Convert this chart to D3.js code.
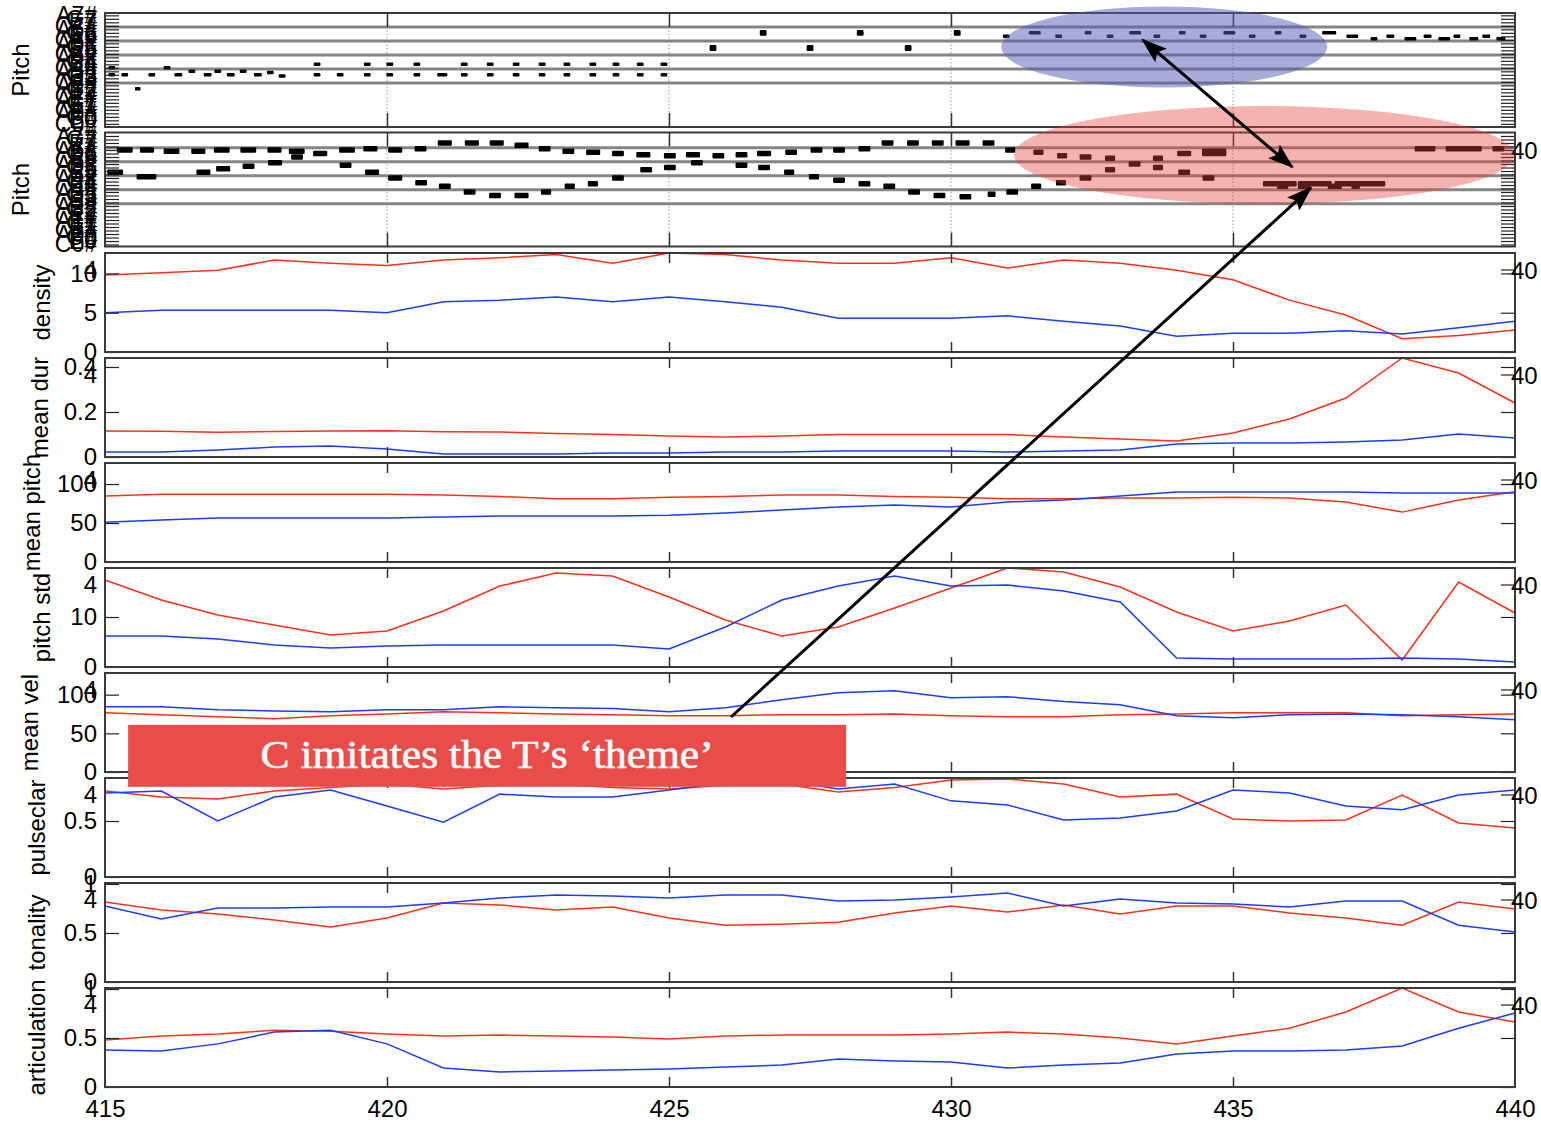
<!DOCTYPE html>
<html><head><meta charset="utf-8">
<script src="https://cdn.jsdelivr.net/npm/d3@7"></script>
<style>body{margin:0;background:#fff}svg{display:block}</style>
</head><body><svg id="c" width="1541" height="1125"></svg>
<script>
// ---------- DATA ----------
const bars = [415,416,417,418,419,420,421,422,423,424,425,426,427,428,429,430,431,432,433,434,435,436,437,438,439,440];
const xTickValues = [420,425,430,435];
const xTickLabels = [415,420,425,430,435,440];

const densityC = [9.8,10.1,10.4,11.7,11.3,11.0,11.7,12.0,12.4,11.3,12.6,12.4,11.7,11.3,11.3,12.0,10.7,11.7,11.3,10.4,9.2,6.6,4.7,1.7,2.1,2.8];
const densityT = [5.0,5.3,5.3,5.3,5.3,5.0,6.4,6.6,7.0,6.4,7.0,6.4,5.7,4.3,4.3,4.3,4.6,3.9,3.3,2.0,2.4,2.4,2.7,2.3,3.1,3.9];
const meanDurC = [0.116,0.115,0.11,0.113,0.116,0.117,0.112,0.111,0.104,0.1,0.093,0.089,0.093,0.1,0.1,0.1,0.1,0.089,0.08,0.071,0.107,0.169,0.262,0.44,0.373,0.24];
const meanDurT = [0.022,0.022,0.031,0.044,0.049,0.036,0.013,0.013,0.013,0.018,0.018,0.022,0.022,0.027,0.027,0.027,0.022,0.027,0.031,0.058,0.062,0.062,0.067,0.076,0.102,0.084];
const meanPitchC = [84.6,87,87,87,87,87,86,84,81,81,83,84,86,86,84,83,81,81,82,82,83,82,77,64,79.5,90];
const meanPitchT = [51,54,56.4,56.4,56.4,56.4,57.7,59,59,59,60,62.8,66.7,70.5,73,70.5,77,79.5,84.6,89.7,89.7,89.7,89.7,88.5,88.5,88.5];
const pitchStdC = [17.4,13.4,10.4,8.4,6.4,7.2,11.2,16.2,18.8,18.2,14,9.4,6.2,8,11.8,15.8,19.8,19,16,11,7.2,9.2,12.4,1.4,17,10.8];
const pitchStdT = [6.2,6.2,5.6,4.4,3.8,4.2,4.4,4.4,4.4,4.4,3.6,8,13.4,16.2,18.2,16.2,16.4,15.2,13,1.8,1.6,1.6,1.6,1.8,1.6,1];
const meanVelC = [76.6,74,71.4,69,72.7,75,78,76.6,75,74,72.7,72.7,74,74,75,72.7,71.4,71.4,74,75,76.6,76.6,76.6,72.7,74,75];
const meanVelT = [84.4,84.4,80.5,79,78,80.5,80.5,84.4,83,82,78,83,93.5,102.6,105,96,97.4,91,87,72.7,70,74,75,74,71.4,67.5];
const pulseclarC = [0.768,0.714,0.696,0.768,0.80,0.83,0.786,0.82,0.83,0.80,0.786,0.82,0.83,0.76,0.80,0.866,0.875,0.83,0.714,0.74,0.518,0.5,0.509,0.732,0.482,0.4375];
const pulseclarT = [0.75,0.768,0.5,0.714,0.777,0.634,0.49,0.74,0.714,0.714,0.777,0.84,0.866,0.786,0.83,0.68,0.643,0.509,0.527,0.59,0.777,0.75,0.634,0.6,0.732,0.777];
const tonalityC = [0.816,0.735,0.694,0.633,0.56,0.653,0.806,0.786,0.735,0.765,0.653,0.58,0.59,0.61,0.704,0.776,0.714,0.786,0.694,0.776,0.776,0.704,0.653,0.58,0.816,0.745];
const tonalityT = [0.776,0.643,0.755,0.755,0.765,0.765,0.806,0.857,0.888,0.878,0.857,0.888,0.888,0.827,0.837,0.867,0.908,0.776,0.847,0.806,0.796,0.765,0.827,0.827,0.58,0.51];
const articulationC = [0.48,0.52,0.54,0.58,0.57,0.54,0.52,0.53,0.52,0.51,0.49,0.52,0.53,0.53,0.53,0.54,0.56,0.54,0.5,0.44,0.52,0.60,0.765,1.01,0.765,0.663];
const articulationT = [0.378,0.367,0.44,0.56,0.58,0.44,0.194,0.153,0.163,0.173,0.184,0.204,0.224,0.286,0.265,0.255,0.194,0.224,0.245,0.337,0.367,0.367,0.378,0.418,0.60,0.755];

const densityTicks = [0,5,10];
const meanDurTicks = [0,0.2,0.4];
const meanPitchTicks = [0,50,100];
const pitchStdTicks = [0,10];
const meanVelTicks = [0,50,100];
const pulseclarTicks = [0,0.5];
const tonalityTicks = [0,0.5,1];
const articulationTicks = [0,0.5,1];

// piano-roll pitch axis
const pitchTickValues = [13,16,19,22,25,28,31,34,37,40,43,46,49,52,55,58,61,64,67,70,73,76,79,82,85,88,91,94,97,100,103,106];
const pitchTickLabels = ["C0#","E0","G0","A0#","C1#","E1","G1","A1#","C2#","E2","G2","A2#","C3#","E3","G3","A3#","C4#","E4","G4","A4#","C5#","E5","G5","A5#","C6#","E6","G6","A6#","C7#","E7","G7","A7#"];
const staffPitches = [48,60,72,84,96];

// notes: [onset (bar), duration (bars), MIDI pitch]
const notesT = [
 [415.06,0.12,61],[415.06,0.12,55],[415.29,0.12,55],[415.53,0.1,43],[415.77,0.12,55],[416.04,0.12,61],
 [416.23,0.14,55],[416.48,0.12,58],[416.75,0.14,55],[416.94,0.12,58],[417.16,0.14,55],[417.39,0.12,58],
 [417.64,0.14,55],[417.87,0.12,57],[418.08,0.12,54],
 [418.70,0.12,55],[419.11,0.12,55],[419.59,0.12,55],[419.99,0.12,55],[420.47,0.12,55],[420.89,0.18,55],
 [421.31,0.12,55],[421.77,0.12,55],[422.23,0.12,55],[422.69,0.12,55],[423.13,0.12,55],[423.59,0.12,55],
 [424.00,0.12,55],[424.43,0.12,55],[424.85,0.12,55],
 [418.70,0.12,64],[419.59,0.12,64],[419.99,0.12,64],[420.47,0.12,64],[421.31,0.12,64],[421.77,0.12,64],
 [422.23,0.12,64],[422.69,0.12,64],[423.13,0.12,64],[423.59,0.12,64],[424.00,0.12,64],[424.43,0.12,64],[424.85,0.12,64],
 [425.72,0.12,79],[425.72,0.12,77],[426.61,0.12,92],[426.61,0.12,90],[427.44,0.12,79],[427.44,0.12,77],
 [428.33,0.12,92],[428.33,0.12,90],[429.18,0.12,79],[429.18,0.12,77],[430.05,0.12,92],[430.05,0.12,90],
 [430.92,0.12,88],[431.38,0.21,91],[431.85,0.12,88],[432.37,0.12,91],[432.76,0.12,88],[433.16,0.21,91],
 [433.59,0.12,88],[434.04,0.12,91],[434.41,0.12,88],[434.83,0.21,91],[435.28,0.12,88],[435.74,0.12,91],
 [436.18,0.12,88],[436.58,0.25,91],[437.01,0.21,88],[437.44,0.12,86],[437.72,0.14,88],[438.04,0.21,86],
 [438.38,0.14,88],[438.64,0.21,86],[438.91,0.12,88],[439.19,0.16,86],[439.42,0.14,88],[439.67,0.16,86]
];
const notesC = [
 [415.21,0.28,94],[415.62,0.25,94],[416.04,0.28,93],[416.53,0.25,93],[416.93,0.28,94],[417.40,0.28,94],
 [417.88,0.25,94],[418.26,0.28,93],[418.30,0.21,88],[418.69,0.25,91],[419.15,0.28,94],[419.58,0.25,95],
 [420.02,0.25,94],[420.49,0.21,95],[420.90,0.25,100],[421.38,0.25,100],[421.82,0.25,100],[422.26,0.25,98],
 [422.69,0.21,95],[423.11,0.21,93],[423.53,0.25,92],[423.99,0.21,91],[424.42,0.25,90],[424.91,0.21,89],
 [425.30,0.25,90],[425.77,0.21,89],[426.18,0.21,90],[426.56,0.25,91],[427.06,0.21,92],[427.51,0.21,94],
 [427.91,0.21,94],[428.36,0.21,95],[428.77,0.21,100],[429.22,0.21,100],[429.66,0.21,100],[430.08,0.25,100],
 [430.56,0.21,100],[430.96,0.18,94],
 [415.04,0.28,75],[415.56,0.35,71],[416.62,0.25,75],[416.97,0.25,78],[417.44,0.21,80],[417.89,0.25,83],
 [419.16,0.21,81],[419.61,0.25,75],[420.02,0.25,70],[420.50,0.21,66],[420.92,0.21,63],[421.36,0.21,58],
 [421.81,0.21,55],[422.26,0.25,55],[422.73,0.18,58],[423.15,0.18,63],[423.56,0.18,65],[423.99,0.21,70],
 [424.49,0.21,77],[424.91,0.21,79],[425.39,0.21,83],[426.18,0.21,81],[426.58,0.21,79],[427.04,0.18,75],
 [427.48,0.18,71],[427.91,0.21,68],[428.36,0.21,65],[428.80,0.21,63],[429.24,0.21,58],[429.69,0.21,55],
 [430.15,0.21,54],[430.65,0.14,56],[430.98,0.21,58],[431.42,0.18,63],[431.86,0.18,66],
 [431.46,0.18,92],[431.88,0.18,89],[432.28,0.21,88],[432.73,0.18,87],[433.15,0.21,82],[433.58,0.18,87],
 [433.58,0.18,79],[432.73,0.18,77],[434.01,0.25,91],[434.45,0.43,93],[434.45,0.43,91],[434.03,0.21,75],
 [434.46,0.21,70],[432.28,0.21,70],
 [435.53,0.6,65],[436.15,0.6,65],[436.8,0.9,65],[435.78,0.2,63],[436.15,0.22,63],[436.68,0.25,63],[437.1,0.15,63],
 [438.22,0.37,95],[438.77,0.64,95],[439.60,0.21,95]
];

// ---------- DRAWING ----------
const FONT = '"Liberation Sans", Arial, Helvetica, sans-serif';
const RED = '#ff3018', BLUE = '#1c3cff';
const svg = d3.select('#c');
svg.append('rect').attr('width',1541).attr('height',1125).attr('fill','#fff');
const L = 105, R = 1515;
const x = d3.scaleLinear().domain([415,440]).range([L,R]);

const pitchPanels = [
  {top:13, bottom:127, domain:[108,10.3], notes:notesT, noteH:3.5, label:'Pitch', lx:29, show40:false},
  {top:132.5, bottom:246.5, domain:[109,11.3], notes:notesC, noteH:5.5, label:'Pitch', lx:29, show40:true}
];
pitchPanels.forEach(p => {
  p.y = d3.scaleLinear().domain(p.domain).range([p.top,p.bottom]);
  const g = svg.append('g');
  g.selectAll('.grid').data(xTickValues).join('line')
    .attr('x1',d=>x(d)).attr('x2',d=>x(d)).attr('y1',p.top).attr('y2',p.bottom)
    .attr('stroke','#9a9a9a').attr('stroke-width',1).attr('stroke-dasharray','1.5,2');
  g.selectAll('.staff').data(staffPitches).join('line')
    .attr('x1',L).attr('x2',R).attr('y1',d=>p.y(d)).attr('y2',d=>p.y(d))
    .attr('stroke','#858585').attr('stroke-width',3);
  g.selectAll('.note').data(p.notes).join('rect')
    .attr('x',d=>x(d[0])).attr('width',d=>x(d[0]+d[1])-x(d[0]))
    .attr('y',d=>p.y(d[2])-p.noteH/2).attr('height',p.noteH)
    .attr('rx',1).attr('fill','#000');
  const ax = svg.append('g').attr('transform',`translate(${L},0)`)
    .call(d3.axisLeft(p.y).tickValues(pitchTickValues).tickSize(-14).tickPadding(8)
      .tickFormat((d,i)=>pitchTickLabels[i]));
  ax.select('.domain').remove();
  ax.selectAll('line').attr('stroke','#222').attr('stroke-width',1.2);
  ax.selectAll('text').attr('font-family',FONT).attr('font-size',23).attr('fill','#000');
  const axr = svg.append('g').attr('transform',`translate(${R},0)`)
    .call(d3.axisRight(p.y).tickValues(pitchTickValues).tickSize(-14).tickFormat(''));
  axr.select('.domain').remove();
  axr.selectAll('line').attr('stroke','#222').attr('stroke-width',1.2);
  [[d3.axisTop, p.top],[d3.axisBottom, p.bottom]].forEach(([fn,yy]) => {
    const a = svg.append('g').attr('transform',`translate(0,${yy})`)
      .call(fn(x).tickValues(xTickValues).tickSize(-14).tickFormat(''));
    a.select('.domain').remove();
    a.selectAll('line').attr('stroke','#333').attr('stroke-width',1.5);
  });
  svg.append('rect').attr('x',L).attr('y',p.top).attr('width',R-L).attr('height',p.bottom-p.top)
    .attr('fill','none').attr('stroke','#3a3a3a').attr('stroke-width',2);
  svg.append('text').attr('transform',`translate(${p.lx},${(p.top+p.bottom)/2}) rotate(-90)`)
    .attr('text-anchor','middle').attr('font-family',FONT).attr('font-size',24).text(p.label);
  if (p.show40) {
    const yy = p.y(94);
    svg.append('text').attr('x',R-4).attr('y',yy).attr('dy','0.36em')
      .attr('font-family',FONT).attr('font-size',24).text('40');
  }
});

const linePanels = [
  {top:253, bottom:352, domain:[0,12.6], ticks:densityTicks, C:densityC, T:densityT, label:'density', lx:50},
  {top:358, bottom:457, domain:[0,0.44], ticks:meanDurTicks, C:meanDurC, T:meanDurT, label:'mean dur', lx:48},
  {top:463, bottom:562, domain:[0,127], ticks:meanPitchTicks, C:meanPitchC, T:meanPitchT, label:'mean pitch', lx:40},
  {top:568, bottom:667, domain:[0,19.8], ticks:pitchStdTicks, C:pitchStdC, T:pitchStdT, label:'pitch std', lx:50},
  {top:673, bottom:772, domain:[0,128], ticks:meanVelTicks, C:meanVelC, T:meanVelT, label:'mean vel', lx:38},
  {top:778, bottom:877, domain:[0,0.884], ticks:pulseclarTicks, C:pulseclarC, T:pulseclarT, label:'pulseclar', lx:45},
  {top:883, bottom:982, domain:[0,1.01], ticks:tonalityTicks, C:tonalityC, T:tonalityT, label:'tonality', lx:45},
  {top:988, bottom:1087, domain:[0,1.01], ticks:articulationTicks, C:articulationC, T:articulationT, label:'articulation', lx:45}
];
linePanels.forEach((p,k) => {
  p.y = d3.scaleLinear().domain(p.domain).range([p.bottom,p.top]);
  const line = d3.line().x((d,i)=>x(bars[i])).y(d=>p.y(d));
  svg.append('path').datum(p.C).attr('d',line).attr('fill','none').attr('stroke',RED).attr('stroke-width',1.5);
  svg.append('path').datum(p.T).attr('d',line).attr('fill','none').attr('stroke',BLUE).attr('stroke-width',1.5);
  const ax = svg.append('g').attr('transform',`translate(${L},0)`)
    .call(d3.axisLeft(p.y).tickValues(p.ticks).tickSize(-14).tickPadding(8).tickFormat(d=>String(d)));
  ax.select('.domain').remove();
  ax.selectAll('line').attr('stroke','#222').attr('stroke-width',1.2);
  ax.selectAll('text').attr('font-family',FONT).attr('font-size',24).attr('fill','#000');
  const axr = svg.append('g').attr('transform',`translate(${R},0)`)
    .call(d3.axisRight(p.y).tickValues(p.ticks).tickSize(-14).tickFormat(''));
  axr.select('.domain').remove();
  axr.selectAll('line').attr('stroke','#222').attr('stroke-width',1.2);
  [[d3.axisTop, p.top],[d3.axisBottom, p.bottom]].forEach(([fn,yy]) => {
    const a = svg.append('g').attr('transform',`translate(0,${yy})`)
      .call(fn(x).tickValues(xTickValues).tickSize(-10).tickFormat(''));
    a.select('.domain').remove();
    a.selectAll('line').attr('stroke','#333').attr('stroke-width',1.5);
  });
  svg.append('rect').attr('x',L).attr('y',p.top).attr('width',R-L).attr('height',p.bottom-p.top)
    .attr('fill','none').attr('stroke','#3a3a3a').attr('stroke-width',2);
  svg.append('text').attr('x',L-8).attr('y',p.top+16).attr('dy','0.36em').attr('text-anchor','end')
    .attr('font-family',FONT).attr('font-size',24).text('4');
  svg.append('line').attr('x1',R-14).attr('x2',R).attr('y1',p.top+17).attr('y2',p.top+17)
    .attr('stroke','#222').attr('stroke-width',1.2);
  svg.append('text').attr('x',R-4).attr('y',p.top+17).attr('dy','0.36em')
    .attr('font-family',FONT).attr('font-size',24).text('40');
  svg.append('text').attr('transform',`translate(${p.lx},${(p.top+p.bottom)/2}) rotate(-90)`)
    .attr('text-anchor','middle').attr('font-family',FONT).attr('font-size',24).text(p.label);
  if (k === linePanels.length-1) {
    const a = svg.append('g').attr('transform',`translate(0,${p.bottom})`)
      .call(d3.axisBottom(x).tickValues(xTickLabels).tickSize(0).tickPadding(13).tickFormat(d=>String(d)));
    a.select('.domain').remove();
    a.selectAll('text').attr('font-family',FONT).attr('font-size',24).attr('fill','#000');
  }
});

// ---------- ANNOTATIONS (in data units) ----------
const P1 = pitchPanels[0].y, P2 = pitchPanels[1].y, VEL = linePanels[4].y;
const ellipseT = {t:433.78, p:78.9, rt:2.89, rp:34.7};
const ellipseC = {t:435.55, p:89.7, rt:4.43, rp:42};
svg.append('ellipse').attr('cx',x(ellipseT.t)).attr('cy',P1(ellipseT.p))
  .attr('rx',x(ellipseT.t+ellipseT.rt)-x(ellipseT.t)).attr('ry',P1(ellipseT.p-ellipseT.rp)-P1(ellipseT.p))
  .attr('fill','#5359b3').attr('fill-opacity',0.5);
svg.append('ellipse').attr('cx',x(ellipseC.t)).attr('cy',P2(ellipseC.p))
  .attr('rx',x(ellipseC.t+ellipseC.rt)-x(ellipseC.t)).attr('ry',P2(ellipseC.p-ellipseC.rp)-P2(ellipseC.p))
  .attr('fill','#e4403b').attr('fill-opacity',0.4);

const defs = svg.append('defs');
defs.append('marker').attr('id','ah').attr('markerUnits','userSpaceOnUse')
  .attr('markerWidth',26).attr('markerHeight',18).attr('refX',24).attr('refY',9)
  .attr('orient','auto-start-reverse')
  .append('path').attr('d','M0,0 L26,9 L0,18 L5,9 Z').attr('fill','#000');

const arrow1 = {from:[433.40,84.9], to:[436.05,79.5]};
const arrow2 = {from:[426.10,71.1], to:[436.38,61.5]};
svg.append('line').attr('x1',x(arrow1.from[0])).attr('y1',P1(arrow1.from[1]))
  .attr('x2',x(arrow1.to[0])).attr('y2',P2(arrow1.to[1]))
  .attr('stroke','#000').attr('stroke-width',3)
  .attr('marker-start','url(#ah)').attr('marker-end','url(#ah)');
svg.append('line').attr('x1',x(arrow2.from[0])).attr('y1',VEL(arrow2.from[1]))
  .attr('x2',x(arrow2.to[0])).attr('y2',P2(arrow2.to[1]))
  .attr('stroke','#000').attr('stroke-width',3)
  .attr('marker-end','url(#ah)');

const box = {t0:415.41, t1:428.14, v:61};
const bx0 = x(box.t0), bx1 = x(box.t1), by = VEL(box.v);
svg.append('rect').attr('x',bx0).attr('y',by).attr('width',bx1-bx0).attr('height',62).attr('fill','#e84d4a');
svg.append('text').attr('x',(bx0+bx1)/2).attr('y',by+43).attr('text-anchor','middle')
  .attr('font-family','"Liberation Serif", "DejaVu Serif", serif').attr('font-size',40)
  .attr('fill','#fff').attr('stroke','#fff').attr('stroke-width',0.6)
  .attr('textLength',453).attr('lengthAdjust','spacingAndGlyphs')
  .text('C imitates the T’s ‘theme’');
</script>
</body></html>
